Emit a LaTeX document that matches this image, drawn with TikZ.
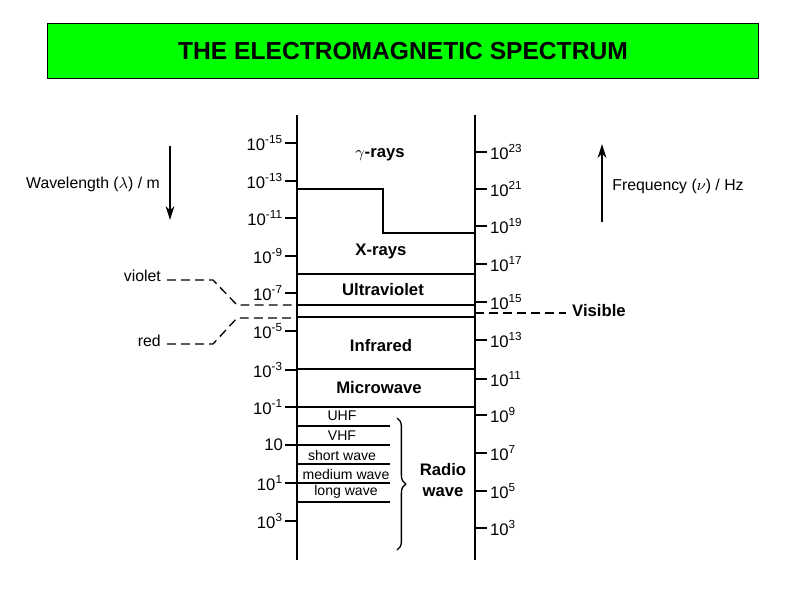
\documentclass[tikz,border=0pt]{standalone}
\usepackage{fontspec}
\setmainfont{Liberation Sans}
\usetikzlibrary{decorations.pathreplacing,arrows.meta}
\newcommand{\myexp}[1]{\textsuperscript{#1}}
\begin{document}
\begin{tikzpicture}[x=0.02cm,y=-0.02cm,
  ln/.style={line width=0.75pt},
  dl/.style={line width=0.75pt,dash pattern=on 5pt off 3pt},
  band/.style={font=\bfseries\fontsize{9.5}{12}\selectfont},
  sub/.style={font=\fontsize{8}{10}\selectfont},
  lt/.style={anchor=east,font=\fontsize{9.5}{12}\selectfont,inner sep=1pt},
  rt/.style={anchor=west,font=\fontsize{9.5}{12}\selectfont,inner sep=1pt},
  lab/.style={font=\fontsize{9}{11}\selectfont}]
\useasboundingbox (0,0) rectangle (800,600);
\node[draw,fill=green,line width=0.6pt,minimum width=14.24cm,minimum height=1.1cm,font=\bfseries\fontsize{14}{17}\selectfont] (title) at (403,51) {THE ELECTROMAGNETIC SPECTRUM};
\coordinate (lt) at (297,115); \coordinate (lb) at (297,560);
\coordinate (rtp) at (475,115); \coordinate (rb) at (475,560);
\draw[ln] (lt)--(lb); \draw[ln] (rtp)--(rb);
\foreach \y/\t in {143/{10\myexp{-15}},181/{10\myexp{-13}},218/{10\myexp{-11}},256/{10\myexp{-9}},293/{10\myexp{-7}},331/{10\myexp{-5}},370/{10\myexp{-3}},407/{10\myexp{-1}},445/{10},483/{10\myexp{1}},521/{10\myexp{3}}}{
  \draw[ln] (285,\y)--(297,\y); \node[lt] at (285,\y) {\t};}
\foreach \y/\t in {152/23,189/21,226/19,264/17,302/15,340/13,379/11,415/9,453/7,491/5,528/3}{
  \draw[ln] (475,\y)--(487,\y); \node[rt] at (488,\y) {10\myexp{\t}};}
\draw[ln] (297,189)--(383,189)--(383,233)--(475,233);
\foreach \y in {274,305,317,369,407}{\draw[ln] (297,\y)--(475,\y);}
\foreach \y in {426,445,464,483,502}{\draw[ln] (297,\y)--(390,\y);}
\node[band] (g) at (380,155) {$\gamma$-rays};
\node[band] (x) at (381,251) {X-rays};
\node[band] (uv) at (383,290) {Ultraviolet};
\node[band] (ir) at (381,346) {Infrared};
\node[band] (mw) at (379,388) {Microwave};
\node[band,align=center] (rw) at (443,480) {Radio\\wave};
\node[sub] (uhf) at (342,416) {UHF};
\node[sub] (vhf) at (342,436) {VHF};
\node[sub] (sw) at (342,455) {short wave};
\node[sub] (mdw) at (346,474) {medium wave};
\node[sub] (lw) at (346,492) {long wave};
\draw[line width=0.75pt,decorate,decoration={brace,amplitude=5pt}] (397,418)--(397,550);
\node[band,anchor=west] (vis) at (566,311) {Visible};
\coordinate (v1) at (475,313);
\draw[dl] (v1)--(v1-|vis.west);
\node[lab,anchor=east] (vio) at (167,276) {violet};
\node[lab,anchor=east] (red) at (167,341) {red};
\draw[dl] (vio.east|-0,280)--(213,280)--(237,305)--(297,305);
\draw[dl] (red.east|-0,344)--(213,344)--(237,318)--(297,318);
\coordinate (a1) at (170,146); \coordinate (a2) at (170,220);
\draw[line width=0.75pt,-{Stealth[length=8pt,width=5pt]}] (a1)--(a2);
\coordinate (b1) at (602,222); \coordinate (b2) at (602,144);
\draw[line width=0.75pt,-{Stealth[length=8pt,width=5pt]}] (b1)--(b2);
\node[lab] (wl) at (93,184) {Wavelength ($\lambda$) / m};
\node[lab] (fr) at (678,186) {Frequency ($\nu$) / Hz};
\end{tikzpicture}
\end{document}
